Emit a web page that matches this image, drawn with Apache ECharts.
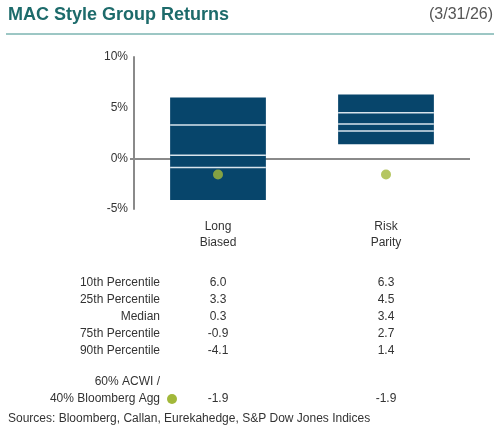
<!DOCTYPE html>
<html><head><meta charset="utf-8">
<script src="https://cdn.jsdelivr.net/npm/echarts@6/dist/echarts.min.js"></script>
<style>html,body{margin:0;padding:0;background:#fff}#c{width:500px;height:440px}</style>
</head><body><div id="c"></div>
<script>
// MAC style group percentile ranges
const categories = ['Long\nBiased', 'Risk\nParity'];
const p10 = [6.0, 6.3];
const p25 = [3.3, 4.5];
const median = [0.3, 3.4];
const p75 = [-0.9, 2.7];
const p90 = [-4.1, 1.4];
const benchmark = [-1.9, -1.9];
const dotPos = [-1.6, -1.6];   // where the dot sits in the drawing
const rowLabels = ['10th Percentile', '25th Percentile', 'Median', '75th Percentile', '90th Percentile'];
const rowData = [p10, p25, median, p75, p90];
const yTicks = [-5, 0, 5, 10];

const FONT = 'Liberation Sans, Arial, sans-serif';
const chart = echarts.init(document.getElementById('c'));

const graphics = [
    { type: 'text', left: 8, top: 6, style: { text: 'MAC Style Group Returns', font: 'bold 18px ' + FONT, fill: '#1d6b6b' } },
    { type: 'text', right: 7, top: 7, style: { text: '(3/31/26)', font: '16px ' + FONT, fill: '#555' } },
    { type: 'line', shape: { x1: 6, y1: 34, x2: 494, y2: 34 }, style: { stroke: '#3a8f8a', lineWidth: 1 } },
    { type: 'text', left: 8, top: 413, style: { text: 'Sources: Bloomberg, Callan, Eurekahedge, S&P Dow Jones Indices', font: '12px ' + FONT, fill: '#333' } }
];
const centers = [218, 386];
rowLabels.forEach((lab, r) => {
    const y = 283 + r * 17;
    graphics.push({ type: 'text', x: 160, y: y, style: { text: lab, font: '12px ' + FONT, fill: '#333', align: 'right', verticalAlign: 'middle' } });
    centers.forEach((cx, i) => {
        graphics.push({ type: 'text', x: cx, y: y, style: { text: rowData[r][i].toFixed(1), font: '12px ' + FONT, fill: '#333', align: 'center', verticalAlign: 'middle' } });
    });
});
graphics.push({ type: 'text', x: 160, y: 382, style: { text: '60% ACWI /', font: '12px ' + FONT, fill: '#333', align: 'right', verticalAlign: 'middle' } });
graphics.push({ type: 'text', x: 160, y: 399, style: { text: '40% Bloomberg Agg', font: '12px ' + FONT, fill: '#333', align: 'right', verticalAlign: 'middle' } });
graphics.push({ type: 'circle', shape: { cx: 172, cy: 399, r: 5 }, style: { fill: '#a2b83a' } });
centers.forEach((cx, i) => {
    graphics.push({ type: 'text', x: cx, y: 399, style: { text: benchmark[i].toFixed(1), font: '12px ' + FONT, fill: '#333', align: 'center', verticalAlign: 'middle' } });
});

chart.setOption({
    animation: false,
    grid: { left: 134, right: 30, top: 57, height: 152 },
    xAxis: {
        type: 'category', data: categories,
        axisLine: { show: false }, axisTick: { show: false },
        axisLabel: { color: '#333', fontFamily: FONT, fontSize: 12, lineHeight: 16, margin: 10 }
    },
    yAxis: {
        type: 'value', min: -5, max: 10, interval: 5,
        axisLine: { show: true, lineStyle: { color: '#8a8a8a', width: 2 } },
        axisTick: { show: false }, splitLine: { show: false },
        axisLabel: { color: '#333', fontFamily: FONT, fontSize: 12, margin: 6,
            formatter: v => yTicks.includes(v) ? v + '%' : '' }
    },
    series: [
        {
            type: 'scatter', data: [], z: 0,
            markLine: { silent: true, symbol: 'none', label: { show: false },
                lineStyle: { color: '#8a8a8a', width: 2, type: 'solid' },
                data: [[{ yAxis: 0, x: 130 }, { yAxis: 0, x: 470 }]] }
        },
        {
            type: 'custom',
            data: categories.map((c, i) => [i, p10[i], p25[i], median[i], p75[i], p90[i]]),
            encode: { x: 0, y: [1, 5] },
            renderItem: (params, api) => {
                const i = api.value(0);
                const top = api.coord([i, api.value(1)]);
                const bot = api.coord([i, api.value(5)]);
                const w = api.size([1, 0])[0] * 0.57;
                const x0 = top[0] - w / 2;
                const children = [{ type: 'rect', shape: { x: x0, y: top[1], width: w, height: bot[1] - top[1] }, style: { fill: '#07456b' } }];
                [2, 3, 4].forEach(k => {
                    const y = api.coord([i, api.value(k)])[1];
                    children.push({ type: 'line', shape: { x1: x0, y1: y, x2: x0 + w, y2: y }, style: { stroke: '#d8e4ec', lineWidth: 1.5 } });
                });
                return { type: 'group', children: children };
            },
            z: 5
        },
        {
            type: 'scatter', data: dotPos, symbolSize: 10,
            itemStyle: { color: '#a2b83a' }, z: 6
        }
    ],
    graphic: graphics
});
</script></body></html>
